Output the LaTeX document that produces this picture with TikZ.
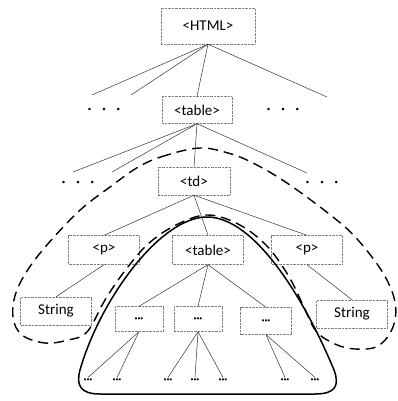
\documentclass[tikz,border=0pt]{standalone}
\usepackage{fontspec}
\setmainfont{Carlito}
\begin{document}
\begin{tikzpicture}[
  x=1pt, y=-1pt,
  tag_box/.style={rectangle, draw=gray, densely dotted, inner sep=0pt, font=\fontsize{15}{17}\selectfont},
  dot_box/.style={rectangle, draw=gray, densely dotted, inner sep=0pt, minimum width=48pt, minimum height=25pt, font=\fontsize{6}{7}\selectfont},
  leaf/.style={inner sep=1pt, font=\fontsize{6}{7}\selectfont},
  skip_dots/.style={inner sep=0pt, font=\fontsize{7}{8}\selectfont},
  edge/.style={draw=black!80, line width=0.5pt},
]
\useasboundingbox (0,0) rectangle (398,401);
% tags
\node (html) [tag_box, minimum width=94pt, minimum height=36pt] at (208,26) {<HTML>};
\node (table) [tag_box, minimum width=70pt, minimum height=27pt] at (197,110) {<table>};
\node (td) [tag_box, minimum width=72pt, minimum height=28pt] at (194,181) {<td>};
\node (pl) [tag_box, minimum width=71pt, minimum height=29pt] at (104,250) {<p>};
\node (tbl) [tag_box, minimum width=71pt, minimum height=29pt] at (208,250) {<table>};
\node (pr) [tag_box, minimum width=71pt, minimum height=29pt] at (307,250) {<p>};
\node (strl) [tag_box, minimum width=71pt, minimum height=28pt] at (56,311) {String};
\node (strr) [tag_box, minimum width=71pt, minimum height=28pt] at (352,314) {String};
\node (da) [dot_box] at (139,319) {•••};
\node (db) [dot_box] at (198,319) {•••};
\node (dc) [dot_box, minimum width=51pt, minimum height=27pt] at (266,321) {•••};
% skipped siblings
\node (sl1) [skip_dots] at (104,110) {•\hspace{11pt}•\hspace{11pt}•};
\node (sr1) [skip_dots] at (283,110) {•\hspace{11pt}•\hspace{11pt}•};
\node (sl2) [skip_dots] at (78,183) {•\hspace{11pt}•\hspace{11pt}•};
\node (sr2) [skip_dots] at (322,183) {•\hspace{11pt}•\hspace{11pt}•};
% leaves
\node (la) [leaf] at (88,380) {•••};
\node (lb) [leaf] at (117,380) {•••};
\node (lc) [leaf] at (168,380) {•••};
\node (ld) [leaf] at (195,380) {•••};
\node (le) [leaf] at (223,380) {•••};
\node (lf) [leaf] at (285,380) {•••};
\node (lg) [leaf] at (315,380) {•••};
% open branch ends
\coordinate (h1) at (92,95);
\coordinate (h2) at (131,95);
\coordinate (h3) at (327,97);
\coordinate (t1) at (73,172);
\coordinate (t2) at (112,172);
\coordinate (t3) at (307,173);
% branches
\draw[edge] (html.south) -- (h1);
\draw[edge] (html.south) -- (h2);
\draw[edge] (html.south) -- (table.north);
\draw[edge] (html.south) -- (h3);
\draw[edge] (table.south) -- (t1);
\draw[edge] (table.south) -- (t2);
\draw[edge] (table.south) -- (td.north);
\draw[edge] (table.south) -- (t3);
\draw[edge] (td.south) -- (pl.north);
\draw[edge] (td.south) -- (tbl.north);
\draw[edge] (td.south) -- (pr.north);
\draw[edge] (pl.south) -- (strl.north);
\draw[edge] (pr.south) -- (strr.north);
\draw[edge] (tbl.south) -- (da.north);
\draw[edge] (tbl.south) -- (db.north);
\draw[edge] (tbl.south) -- (dc.north);
\draw[edge] (da.south) -- (la.north);
\draw[edge] (da.south) -- (lb.north);
\draw[edge] (db.south) -- (lc.north);
\draw[edge] (db.south) -- (ld.north);
\draw[edge] (db.south) -- (le.north);
\draw[edge] (dc.south) -- (lf.north);
\draw[edge] (dc.south) -- (lg.north);
% inner table subtree
\draw[line width=1.5pt] (207,217) .. controls (255,217) and (305,300) .. (334,370)
  .. controls (340,386) and (335,394) .. (315,394) -- (100,394)
  .. controls (80,394) and (76,385) .. (80,370)
  .. controls (100,300) and (160,217) .. (207,217) -- cycle;
% td region without the inner table
\draw[line width=1.4pt, dash pattern=on 10pt off 6pt] plot[smooth cycle, tension=0.6] coordinates {
  (200,148) (167,155) (140,166) (110,187) (77,213) (37,257) (17,290) (13,317)
  (22,335) (45,343) (68,340) (87,332) (105,300) (124,272) (148,244) (176,225)
  (207,215) (238,224) (266,245) (288,275) (303,305) (316,331) (335,344)
  (355,349) (378,346) (393,327) (395,302) (383,273) (358,240) (333,217)
  (287,183) (253,163) (228,153)
};
\end{tikzpicture}
\end{document}
